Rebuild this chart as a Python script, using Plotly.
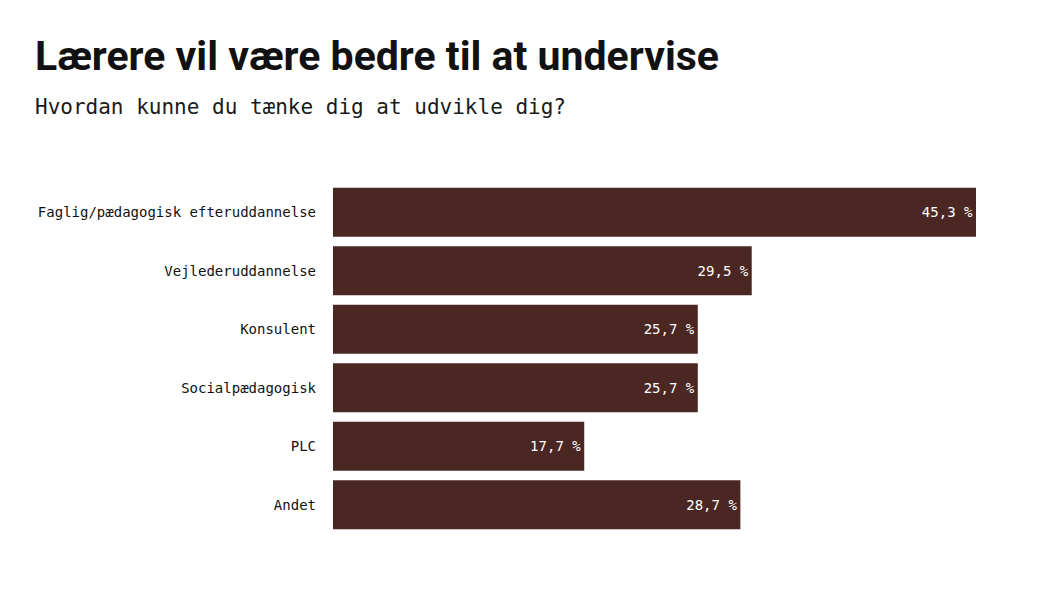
import plotly.graph_objects as go

# Data
categories = [
    "Faglig/pædagogisk efteruddannelse",
    "Vejlederuddannelse",
    "Konsulent",
    "Socialpædagogisk",
    "PLC",
    "Andet",
]
percent = [45.3, 29.5, 25.7, 25.7, 17.7, 28.7]
labels = [f"{v:.1f}".replace(".", ",") + " %" for v in percent]

bar_color = "#4a2722"
mono = "DejaVu Sans Mono, Liberation Mono, monospace"

fig = go.Figure(go.Bar(
    x=percent,
    y=categories,
    orientation="h",
    marker=dict(color=bar_color, line=dict(width=0)),
    text=labels,
    textposition="inside",
    insidetextanchor="end",
    textfont=dict(family=mono, size=14, color="white"),
    hoverinfo="skip",
))

fig.update_layout(
    width=1037,
    height=592,
    paper_bgcolor="white",
    plot_bgcolor="white",
    margin=dict(l=325, r=69, t=175, b=66),
    bargap=0.16,
    showlegend=False,
    title=dict(
        text="<b>Lærere vil være bedre til at undervise</b>",
        font=dict(family="Roboto, sans-serif", size=41, color="#111111"),
        x=27 / 1037,
        xanchor="left",
        xref="container",
        y=1 - 33 / 592,
        yanchor="top",
        yref="container",
    ),
    annotations=[dict(
        text="Hvordan kunne du tænke dig at udvikle dig?",
        font=dict(family=mono, size=21, color="#1a1a1a"),
        xref="paper", yref="paper",
        x=-300 / 643, y=1 + 76 / 351,
        xanchor="left", yanchor="middle",
        showarrow=False,
    )],
)

fig.update_xaxes(range=[0, 45.3], visible=False, fixedrange=True)
fig.update_yaxes(
    autorange="reversed",
    showgrid=False,
    showline=False,
    ticks="",
    ticklabelstandoff=16,
    tickfont=dict(family=mono, size=14, color="#111111"),
)

fig.write_html("out.html")
